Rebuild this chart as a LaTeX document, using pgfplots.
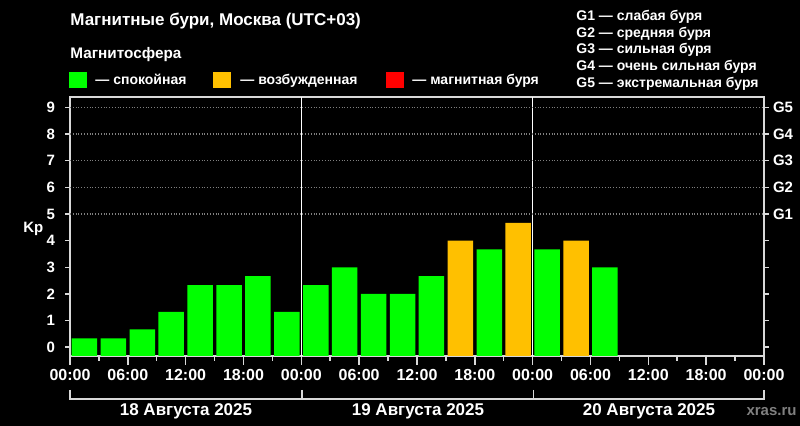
\documentclass[border=0pt]{standalone}
\usepackage{fontspec}
\setmainfont{Liberation Sans}
\usepackage{pgfplots}
\usepackage{pgfplotstable}
\pgfplotsset{compat=1.18}

\definecolor{kpgreen}{HTML}{00FF00}
\definecolor{kporange}{HTML}{FFC000}
\definecolor{kpred}{HTML}{FF0000}
\definecolor{framec}{HTML}{D9D9D9}
\definecolor{gridc}{HTML}{808080}
\newcommand\fs[1]{\fontsize{#1}{#1}\selectfont\bfseries}

% Kp per 3-hour interval, x = middle of the interval in hours from 18 Aug 00:00
\pgfplotstableread{
t    kp
1.5  0.33
4.5  0.33
7.5  0.67
10.5 1.33
13.5 2.33
16.5 2.33
19.5 2.67
22.5 1.33
25.5 2.33
28.5 3.00
31.5 2.00
34.5 2.00
37.5 2.67
43.5 3.67
49.5 3.67
55.5 3.00
}\kpquiet
\pgfplotstableread{
t    kp
40.5 4.00
46.5 4.67
52.5 4.00
}\kpexcited

% bars start at the bottom of the frame, below Kp=0
\def\off{0.33}

\pgfplotsset{kpaxis/.style={
    at={(35pt,-48.5pt)}, anchor=north west,
    width=347pt, height=129.5pt, scale only axis,
    xmin=0, xmax=72, ymin=0, ymax=9.72,
    tick align=outside,
    major tick length=2.5pt, minor tick length=2.5pt,
    axis line style={framec, line width=0.75pt},
    tick style={framec, line width=0.75pt},
    /pgf/number format/assume math mode=true,
    ticklabel style={white},
}}

\begin{document}
\begin{tikzpicture}
\fill[black] (0pt,0pt) rectangle (400pt,-213pt);

\begin{axis}[kpaxis,
    xtick={3,9,15,21,27,33,39,45,51,57,63,69}, xticklabels={}, xtick pos=bottom,
    ytick={0.33,1.33,2.33,3.33,4.33,5.33,6.33,7.33,8.33,9.33},
    yticklabels={0,1,2,3,4,5,6,7,8,9}, ytick pos=left,
    yticklabel style={font=\fs{7.5}, xshift=-1.5pt},
    extra x ticks={24,48}, extra x tick labels={},
    extra x tick style={grid=major, major grid style={white, line width=0.75pt}},
    extra y ticks={5.33,6.33,7.33,8.33,9.33}, extra y tick labels={},
    extra y tick style={grid=major, major grid style={gridc, densely dotted, line width=0.6pt}},
]
\addplot[ybar, bar width=2.65, bar shift=0pt, fill=kpgreen, draw=none]
    table[x=t, y expr=\thisrow{kp}+\off] {\kpquiet};
\addplot[ybar, bar width=2.65, bar shift=0pt, fill=kporange, draw=none]
    table[x=t, y expr=\thisrow{kp}+\off] {\kpexcited};
\end{axis}

% hour labels with longer ticks
\begin{axis}[kpaxis, hide y axis,
    axis line style={draw=none},
    major tick length=4.5pt,
    xtick={0,6,12,18,24,30,36,42,48,54,60,66,72}, xtick pos=bottom,
    xticklabels={00:00,06:00,12:00,18:00,00:00,06:00,12:00,18:00,00:00,06:00,12:00,18:00,00:00},
    xticklabel style={font=\fs{8}, yshift=1.5pt},
]
\end{axis}

% storm levels on the right
\begin{axis}[kpaxis, hide x axis,
    axis line style={draw=none},
    ytick={0.33,1.33,2.33,3.33,4.33,5.33,6.33,7.33,8.33,9.33},
    yticklabels={,,,,,G1,G2,G3,G4,G5},
    ytick pos=right, yticklabel pos=right,
    yticklabel style={font=\fs{7.5}, xshift=-1.5pt},
]
\end{axis}

\begin{scope}[x=0.5pt, y=-0.5pt]
\node[anchor=base west, inner sep=0pt, white, font=\fs{8.5}] at (70,26) {Магнитные бури, Москва (UTC+03)};
\node[anchor=base west, inner sep=0pt, white, font=\fs{7.65}] at (70,59) {Магнитосфера};
\fill[kpgreen] (69,72) rectangle (87,88);
\node[anchor=base west, inner sep=0pt, white, font=\fs{7}] at (95,85) {— спокойная};
\fill[kporange] (213,72) rectangle (231,88);
\node[anchor=base west, inner sep=0pt, white, font=\fs{7}] at (240,85) {— возбужденная};
\fill[kpred] (386,72) rectangle (404,88);
\node[anchor=base west, inner sep=0pt, white, font=\fs{7}] at (412,85) {— магнитная буря};

\node[anchor=base west, inner sep=0pt, white, font=\fs{7}] at (576,20.7) {G1 — слабая буря};
\node[anchor=base west, inner sep=0pt, white, font=\fs{7}] at (576,37.3) {G2 — средняя буря};
\node[anchor=base west, inner sep=0pt, white, font=\fs{7}] at (576,53.9) {G3 — сильная буря};
\node[anchor=base west, inner sep=0pt, white, font=\fs{7}] at (576,70.5) {G4 — очень сильная буря};
\node[anchor=base west, inner sep=0pt, white, font=\fs{7}] at (576,87.1) {G5 — экстремальная буря};

\node[anchor=base west, inner sep=0pt, white, font=\fs{7.5}] at (23,233) {Kp};

\draw[framec, line width=0.75pt] (70,390) -- (70,399) -- (764,399) -- (764,390);
\draw[framec, line width=0.75pt] (302,390) -- (302,399);
\draw[framec, line width=0.75pt] (533.5,390) -- (533.5,399);
\node[anchor=base, inner sep=0pt, white, font=\fs{8.5}] at (186,416) {18 Августа 2025};
\node[anchor=base, inner sep=0pt, white, font=\fs{8.5}] at (418,416) {19 Августа 2025};
\node[anchor=base, inner sep=0pt, white, font=\fs{8.5}] at (649,416) {20 Августа 2025};
\node[anchor=base east, inner sep=0pt, gridc, font=\fs{7.5}] at (797,416) {xras.ru};
\end{scope}

\pgfresetboundingbox
\useasboundingbox (0pt,0pt) rectangle (400pt,-213pt);
\end{tikzpicture}
\end{document}
